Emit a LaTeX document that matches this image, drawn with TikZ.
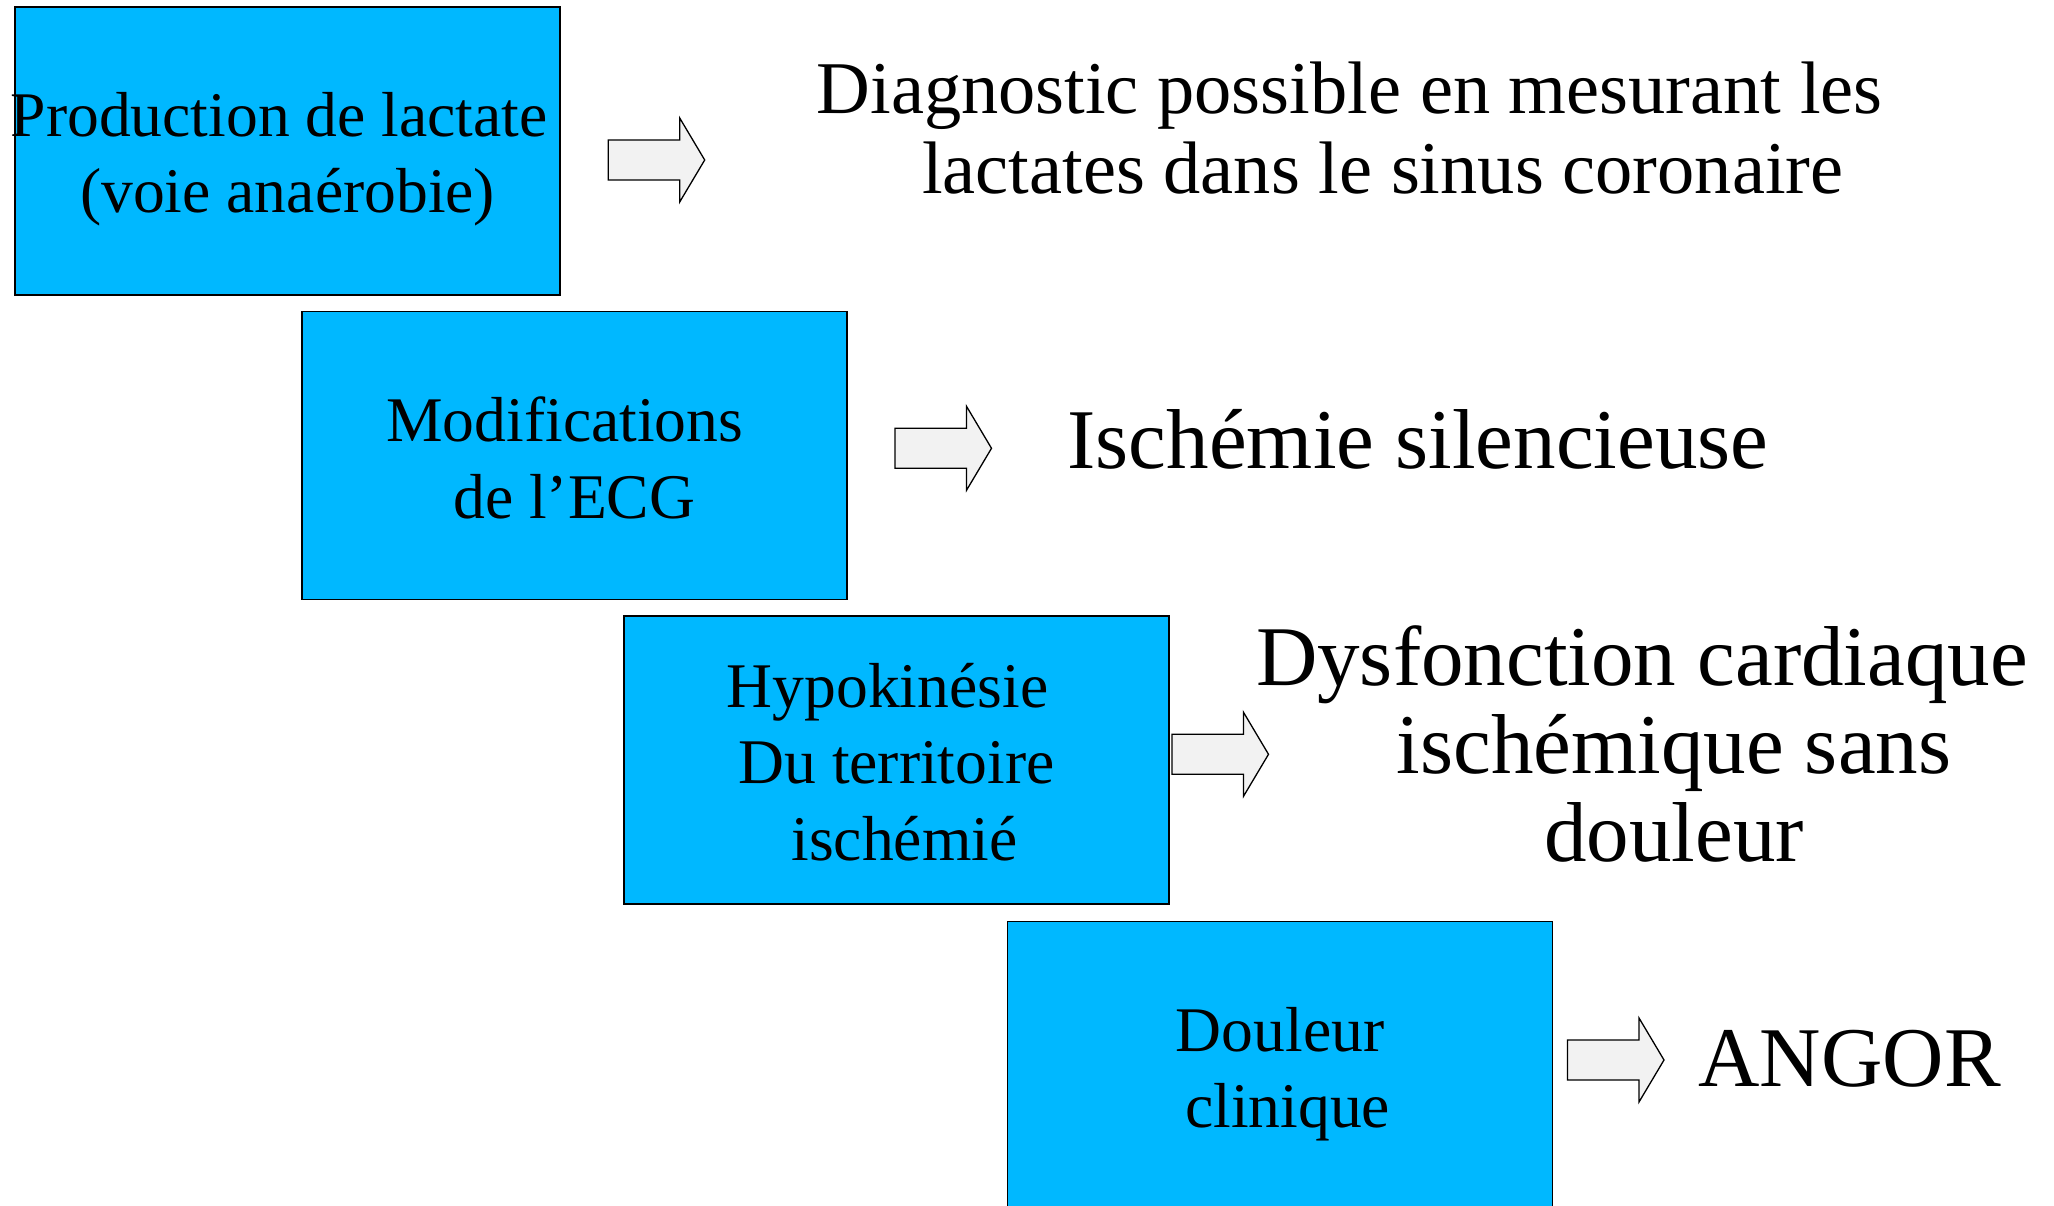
\documentclass[tikz,border=0pt]{standalone}
\usepackage{fontspec}
\setmainfont{Liberation Serif}
\definecolor{boxcyan}{RGB}{0,184,255}
\definecolor{arrowgray}{RGB}{242,242,242}
\tikzset{
  stepbox/.style={draw=black, line width=1.6pt, fill=boxcyan,
    minimum width=545pt, minimum height=288pt, inner sep=0pt, outer sep=0pt},
  boxtext/.style={align=center, inner sep=0pt, anchor=base,
    font=\fontsize{63.6}{76.4}\selectfont},
  sidetext/.style={align=center, inner sep=0pt, anchor=base},
  blockarrow/.pic={
    \path[draw=black, line width=1.3pt, fill=arrowgray, line join=miter]
      (0,-20) -- (71.5,-20) -- (71.5,-42) -- (96.5,0) -- (71.5,42)
      -- (71.5,20) -- (0,20) -- cycle;}
}
\begin{document}
\begin{tikzpicture}[x=1pt,y=-1pt]
\useasboundingbox (0,0) rectangle (2054,1206);

% staircase of cause boxes
\node[stepbox] (b1) at (287.6,151.2) {};
\node[stepbox] (b2) at (574.3,455.5) {};
\node[stepbox] (b3) at (896.5,759.9) {};
\node[stepbox] (b4) at (1280.1,1065.6) {};

% box captions (the base anchor sits on the last line's baseline)
\node[boxtext] (t1) at (287.6,213) {Production de lactate\kern17pt\\(voie anaérobie)};
\node[boxtext] (t2) at (574.3,518) {Modifications\kern19pt\\de l’ECG};
\node[boxtext] (t3) at (896.5,860) {Hypokinésie\kern18pt\\Du territoire\\\kern16pt ischémié};
\node[boxtext] (t4) at (1280.1,1127.7) {Douleur\\\kern15pt clinique};

% block arrows
\pic (a1) at (608.2,160) {blockarrow};
\pic (a2) at (895,448.3) {blockarrow};
\pic (a3) at (1172,754.3) {blockarrow};
\pic (a4) at (1567.5,1060) {blockarrow};

% consequences
\node[sidetext, font=\fontsize{74.4}{80}\selectfont] (r1) at (1382.7,193.3)
  {Diagnostic possible en mesurant les\kern66pt\\lactates dans le sinus coronaire};
\node[sidetext, font=\fontsize{85}{88.3}\selectfont] (r2) at (1418,468.3)
  {Ischémie silencieuse};
\node[sidetext, font=\fontsize{85}{88.3}\selectfont] (r3) at (1674,861.7)
  {Dysfonction cardiaque\kern64pt\\ischémique sans\\douleur};
\node[sidetext, font=\fontsize{85}{88.3}\selectfont] (r4) at (1849.7,1086.7)
  {ANGOR};
\end{tikzpicture}
\end{document}
